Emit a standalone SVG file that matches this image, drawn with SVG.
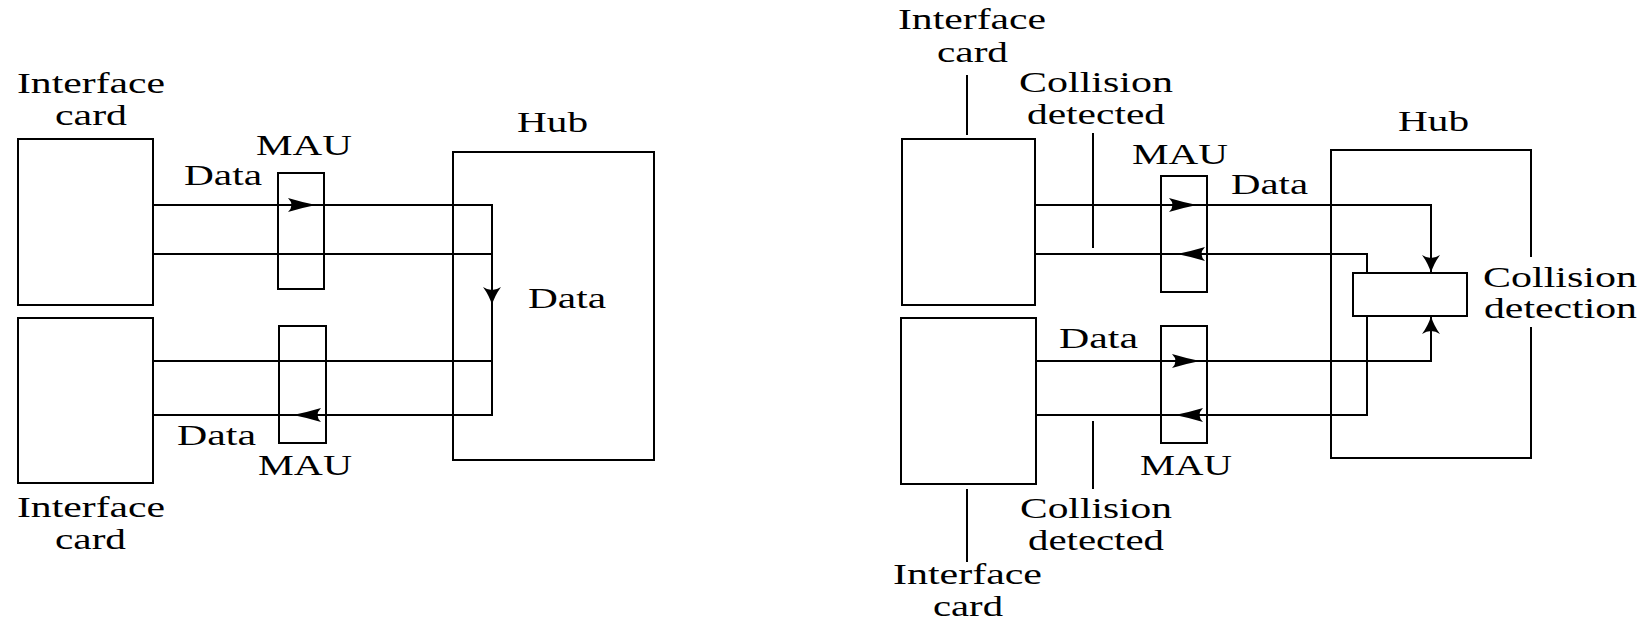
<svg xmlns="http://www.w3.org/2000/svg" xmlns:xlink="http://www.w3.org/1999/xlink" width="1650" height="623" viewBox="0 0 1650 623">
<style>
.box{fill:none;stroke:#000;stroke-width:2}
.ln{fill:none;stroke:#000;stroke-width:2}
.t{font-family:"Liberation Serif","Times New Roman",serif;font-size:30px;fill:#000}
</style>
<defs>
<path id="ar" d="M0,0 Q-13,-2.5 -28,-7 Q-21,0 -28,7 Q-13,2.5 0,0Z" fill="#000"/>
<path id="al" d="M0,0 Q13,-2.5 28,-7 Q21,0 28,7 Q13,2.5 0,0Z" fill="#000"/>
<path id="ad" d="M0,0 Q-2.5,-9 -9,-18 Q0,-12 9,-18 Q2.5,-9 0,0Z" fill="#000"/>
<path id="au" d="M0,0 Q-2.5,9 -9,18 Q0,12 9,18 Q2.5,9 0,0Z" fill="#000"/>
</defs>
<rect width="1650" height="623" fill="#fff"/>

<!-- Left diagram -->
<g id="L_card1"><rect class="box" x="18" y="139" width="135" height="166"/>
<text class="t" x="17" y="93" textLength="148" lengthAdjust="spacingAndGlyphs">Interface</text>
<text class="t" x="55" y="125" textLength="72" lengthAdjust="spacingAndGlyphs">card</text></g>
<g id="L_card2"><rect class="box" x="18" y="318" width="135" height="165"/>
<text class="t" x="17" y="517" textLength="148" lengthAdjust="spacingAndGlyphs">Interface</text>
<text class="t" x="55" y="549" textLength="71" lengthAdjust="spacingAndGlyphs">card</text></g>
<g id="L_mau1"><rect class="box" x="278" y="173" width="46" height="116"/>
<text class="t" x="256" y="155" textLength="96" lengthAdjust="spacingAndGlyphs">MAU</text></g>
<g id="L_mau2"><rect class="box" x="279" y="326" width="47" height="117"/>
<text class="t" x="258" y="475" textLength="94" lengthAdjust="spacingAndGlyphs">MAU</text></g>
<g id="L_hub"><rect class="box" x="453" y="152" width="201" height="308"/>
<text class="t" x="517" y="132" textLength="71" lengthAdjust="spacingAndGlyphs">Hub</text></g>
<g id="L_connectors">
<path class="ln" d="M153,205 H492 V415 H153"/>
<path class="ln" d="M153,254 H492"/>
<path class="ln" d="M153,361 H492"/>
<use xlink:href="#ar" x="316" y="205"/>
<use xlink:href="#ad" x="492" y="305"/>
<use xlink:href="#al" x="293" y="415"/>
<text class="t" x="184" y="185" textLength="78" lengthAdjust="spacingAndGlyphs">Data</text>
<text class="t" x="528" y="308" textLength="78" lengthAdjust="spacingAndGlyphs">Data</text>
<text class="t" x="177" y="445" textLength="79" lengthAdjust="spacingAndGlyphs">Data</text>
</g>

<!-- Right diagram -->
<g id="R_card1"><rect class="box" x="902" y="139" width="133" height="166"/>
<line class="ln" x1="967" y1="75" x2="967" y2="135"/>
<text class="t" x="898" y="29" textLength="148" lengthAdjust="spacingAndGlyphs">Interface</text>
<text class="t" x="937" y="62" textLength="71" lengthAdjust="spacingAndGlyphs">card</text></g>
<g id="R_card2"><rect class="box" x="901" y="318" width="135" height="166"/>
<line class="ln" x1="967" y1="489" x2="967" y2="562"/>
<text class="t" x="893" y="584" textLength="149" lengthAdjust="spacingAndGlyphs">Interface</text>
<text class="t" x="933" y="616" textLength="70" lengthAdjust="spacingAndGlyphs">card</text></g>
<g id="R_coll1"><line class="ln" x1="1093" y1="133" x2="1093" y2="248"/>
<text class="t" x="1019" y="92" textLength="154" lengthAdjust="spacingAndGlyphs">Collision</text>
<text class="t" x="1027" y="124" textLength="138" lengthAdjust="spacingAndGlyphs">detected</text></g>
<g id="R_coll2"><line class="ln" x1="1093" y1="421" x2="1093" y2="489"/>
<text class="t" x="1020" y="518" textLength="152" lengthAdjust="spacingAndGlyphs">Collision</text>
<text class="t" x="1028" y="550" textLength="136" lengthAdjust="spacingAndGlyphs">detected</text></g>
<g id="R_mau1"><rect class="box" x="1161" y="176" width="46" height="116"/>
<text class="t" x="1132" y="164" textLength="96" lengthAdjust="spacingAndGlyphs">MAU</text></g>
<g id="R_mau2"><rect class="box" x="1161" y="326" width="46" height="117"/>
<text class="t" x="1140" y="475" textLength="92" lengthAdjust="spacingAndGlyphs">MAU</text></g>
<g id="R_hub"><path class="box" d="M1531,257 V150 H1331 V458 H1531 V327"/>
<text class="t" x="1398" y="131" textLength="71" lengthAdjust="spacingAndGlyphs">Hub</text></g>
<g id="R_detect"><rect class="box" x="1353" y="273" width="114" height="43"/>
<text class="t" x="1483" y="287" textLength="154" lengthAdjust="spacingAndGlyphs">Collision</text>
<text class="t" x="1484" y="318" textLength="153" lengthAdjust="spacingAndGlyphs">detection</text></g>
<g id="R_connectors">
<path class="ln" d="M1036,205 H1431 V273"/>
<path class="ln" d="M1036,254 H1367 V273"/>
<path class="ln" d="M1036,361 H1431 V316"/>
<path class="ln" d="M1036,415 H1367 V316"/>
<use xlink:href="#ar" x="1197" y="205"/>
<use xlink:href="#al" x="1177" y="254"/>
<use xlink:href="#ar" x="1200" y="361"/>
<use xlink:href="#al" x="1175" y="415"/>
<use xlink:href="#ad" x="1431" y="273"/>
<use xlink:href="#au" x="1431" y="316"/>
<text class="t" x="1231" y="194" textLength="77" lengthAdjust="spacingAndGlyphs">Data</text>
<text class="t" x="1059" y="348" textLength="79" lengthAdjust="spacingAndGlyphs">Data</text>
</g>
</svg>
